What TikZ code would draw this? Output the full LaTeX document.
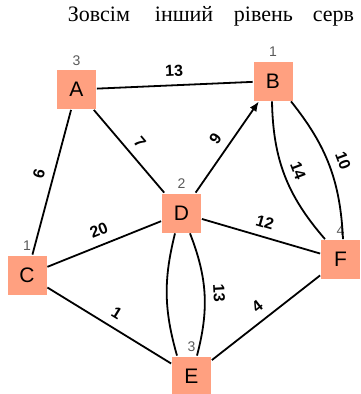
\documentclass[tikz,border=0pt]{standalone}
\usepackage{fontspec}
\setmainfont{Liberation Serif}
\setsansfont{Liberation Sans}
\usetikzlibrary{arrows.meta, positioning}
\definecolor{salmon}{RGB}{255,160,128}

\begin{document}
\begin{tikzpicture}[x=1pt, y=-1pt, line width=1.8pt,
    vertex/.style={fill=salmon, minimum size=39pt, inner sep=0pt, font=\sffamily\fontsize{21}{21}\selectfont},
    wt/.style={sloped, above=7pt, inner sep=1pt, font=\sffamily\bfseries\fontsize{16}{16}\selectfont},
    word/.style={anchor=base west, inner sep=0pt, font=\fontsize{22}{22}\selectfont},
    every label/.style={text=black!65, inner sep=3pt, font=\sffamily\fontsize{14}{14}\selectfont}]
    \clip (0,0) rectangle (360,394);
    % heading, cut off at the right
    \node[word] (w1) at (67,21) {Зовсім};
    \node[word] (w2) at (154,21) {інший};
    \node[word] (w3) at (233,21) {рівень};
    \node[word] (w4) at (312,21) {серв};
    % vertices
    \node[vertex, label=above:3] (A) at (76.5,89.5) {A};
    \node[vertex, label=above:1] (B) at (273,81) {B};
    \node[vertex, label=above:1] (C) at (27,275) {C};
    \node[vertex, label=above:2] (D) at (181.5,213) {D};
    \node[vertex, label=above:3] (E) at (191.5,376) {E};
    \node[vertex, label=above:4] (F) at (340.5,259.5) {F};
    % edges
    \draw (A) -- node[wt] {13} (B);
    \draw (C) -- node[wt, pos=0.53] {6} (A);
    \draw (A) -- node[wt] {7} (D);
    \draw[-{Latex[length=10pt, width=8pt]}] (D) -- node[wt] {9} (B);
    \draw (C) -- node[wt] {20} (D);
    \draw (D) -- node[wt] {12} (F);
    \draw (C) -- node[wt] {1} (E);
    \draw (E) -- node[wt] {4} (F);
    \draw ([xshift=-6.5pt]D.south) to[bend right=15] ([xshift=-14.5pt]E.north);
    \draw ([xshift=8.5pt]D.south) to[bend left=18] node[wt] {13} ([xshift=5.5pt]E.north);
    \draw ([xshift=-1pt]B.south) to[bend right=20] node[wt] {14} ([xshift=-15.5pt]F.north);
    \draw ([xshift=18pt]B.south) to[bend left=18] node[wt] {10} ([xshift=2.5pt]F.north);
\end{tikzpicture}
\end{document}
